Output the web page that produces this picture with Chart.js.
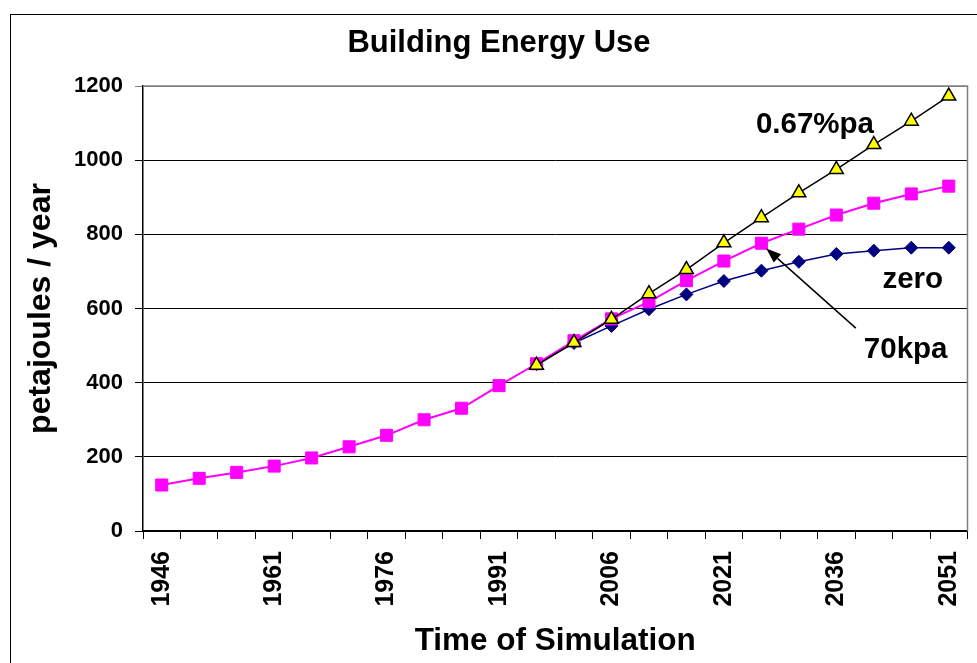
<!DOCTYPE html>
<html>
<head>
<meta charset="utf-8">
<script src="https://cdn.jsdelivr.net/npm/chart.js@4/dist/chart.umd.min.js"></script>
<style>
  html, body { margin: 0; padding: 0; background: #fff; }
</style>
</head>
<body>
<canvas id="c" width="977" height="663"></canvas>
<script>
const years = ['1946', '1951', '1956', '1961', '1966', '1971', '1976', '1981', '1986', '1991', '1996',
  '2001', '2006', '2011', '2016', '2021', '2026', '2031', '2036', '2041', '2046', '2051'];

// 70kpa (magenta squares)
const kpa70 = [124, 142, 158, 175, 197, 227, 258, 300, 331, 392, 451,
  513, 572, 618, 675, 728, 776, 814, 852, 884, 909, 930];

// 0.67%pa (yellow triangles)
const pa067 = [null, null, null, null, null, null, null, null, null, null, 447,
  508, 571, 640, 705, 777, 845, 912, 975, 1042, 1105, 1173];

// zero (navy diamonds)
const zero = [null, null, null, null, null, null, null, null, null, null, 450,
  507, 553, 598, 638, 674, 702, 726, 747, 756, 764, 764];

const yTicks = [0, 200, 400, 600, 800, 1000, 1200];

// text notes, placed in data units (category index, value at baseline)
const notes = [
  { text: '0.67%pa', x: 17.43, y: 1074 },
  { text: 'zero', x: 20.04, y: 655 },
  { text: '70kpa', x: 19.85, y: 467 },
];
const arrowFrom = [18.52, 547];
const arrowTo = [16.13, 762];

const FONT = '"Liberation Sans", Arial, sans-serif';

const frame = {
  id: 'frame',
  beforeDraw(chart) {
    const c = chart.ctx;
    c.save();
    c.strokeStyle = '#000';
    c.lineWidth = 1;
    c.strokeRect(10.5, 14.5, 1000, 700);
    c.restore();
  },
  beforeDatasetsDraw(chart) {
    const a = chart.chartArea;
    const c = chart.ctx;
    c.save();
    c.strokeStyle = '#808080';
    c.lineWidth = 1.5;
    c.beginPath();
    c.moveTo(a.left, a.top);
    c.lineTo(a.right, a.top);
    c.lineTo(a.right, a.bottom);
    c.stroke();
    c.restore();
  },
  afterDatasetsDraw(chart) {
    const x = chart.scales.x, y = chart.scales.y;
    const c = chart.ctx;
    c.save();
    c.fillStyle = '#000';
    c.font = 'bold 29.5px ' + FONT;
    c.textAlign = 'center';
    c.textBaseline = 'alphabetic';
    notes.forEach(n => c.fillText(n.text, x.getPixelForValue(n.x), y.getPixelForValue(n.y)));

    const x1 = x.getPixelForValue(arrowFrom[0]), y1 = y.getPixelForValue(arrowFrom[1]);
    const x2 = x.getPixelForValue(arrowTo[0]), y2 = y.getPixelForValue(arrowTo[1]);
    const ang = Math.atan2(y2 - y1, x2 - x1);
    const head = 15, half = 5.5;
    const bx = x2 - head * Math.cos(ang), by = y2 - head * Math.sin(ang);
    c.strokeStyle = '#000';
    c.lineWidth = 1.5;
    c.beginPath();
    c.moveTo(x1, y1);
    c.lineTo(bx, by);
    c.stroke();
    c.beginPath();
    c.moveTo(x2, y2);
    c.lineTo(bx + half * Math.sin(ang), by - half * Math.cos(ang));
    c.lineTo(bx - half * Math.sin(ang), by + half * Math.cos(ang));
    c.closePath();
    c.fill();
    c.restore();
  }
};

new Chart(document.getElementById('c'), {
  type: 'line',
  data: {
    labels: years,
    datasets: [
      {
        label: '0.67%pa',
        data: pa067,
        borderColor: '#000',
        borderWidth: 1.5,
        pointStyle: 'triangle',
        pointRadius: 8,
        pointBackgroundColor: '#FFFF00',
        pointBorderColor: '#000',
        pointBorderWidth: 1.5,
        tension: 0,
      },
      {
        label: '70kpa',
        data: kpa70,
        borderColor: '#FF00FF',
        borderWidth: 2,
        pointStyle: 'rect',
        pointRadius: 8.5,
        pointBackgroundColor: '#FF00FF',
        pointBorderColor: '#FF00FF',
        pointBorderWidth: 1,
        tension: 0,
      },
      {
        label: 'zero',
        data: zero,
        borderColor: '#000080',
        borderWidth: 1.5,
        pointStyle: 'rectRot',
        pointRadius: 6.5,
        pointBackgroundColor: '#000080',
        pointBorderColor: '#000080',
        pointBorderWidth: 1,
        tension: 0,
      },
    ],
  },
  options: {
    responsive: false,
    animation: false,
    events: [],
    layout: { padding: { left: 28, right: 7, top: 0, bottom: 0 } },
    plugins: {
      legend: { display: false },
      tooltip: { enabled: false },
      title: {
        display: true,
        text: 'Building Energy Use',
        color: '#000',
        font: { family: FONT, size: 31, weight: 'bold', lineHeight: 1.2 },
        padding: { top: 25, bottom: 23.8 },
      },
    },
    scales: {
      x: {
        offset: true,
        grid: { offset: true, drawOnChartArea: false, drawTicks: true, tickLength: 8, color: '#000' },
        border: { color: '#000', width: 1.5 },
        ticks: {
          autoSkip: false,
          minRotation: 90,
          maxRotation: 90,
          padding: 12,
          color: '#000',
          font: { family: FONT, size: 25, weight: 'bold' },
          callback: (v, i) => (i % 3 === 0 ? years[i] : ''),
        },
        title: {
          display: true,
          text: 'Time of Simulation',
          color: '#000',
          font: { family: FONT, size: 31.5, weight: 'bold', lineHeight: 1.2 },
          padding: { top: 0, bottom: 3 },
        },
        afterFit: s => { s.height = 132; s.paddingLeft = 0; s.paddingRight = 0; },
      },
      y: {
        min: 0,
        max: 1200,
        afterBuildTicks: s => { s.ticks = yTicks.map(v => ({ value: v })); },
        grid: {
          color: ctx => (ctx.tick && ctx.tick.value === 1200 ? '#808080' : '#000'),
          tickLength: 8,
          lineWidth: 1,
        },
        border: { color: '#000', width: 1.5 },
        ticks: {
          padding: 12,
          color: '#000',
          font: { family: FONT, size: 22, weight: 'bold' },
          callback: v => String(v),
        },
        title: {
          display: true,
          text: 'petajoules / year',
          color: '#000',
          font: { family: FONT, size: 32, weight: 'bold', lineHeight: 0.8 },
          padding: { top: 0.2, bottom: 0 },
        },
        afterFit: s => { s.width = 115; s.paddingTop = 0; s.paddingBottom = 0; },
      },
    },
  },
  plugins: [frame],
});
</script>
</body>
</html>
